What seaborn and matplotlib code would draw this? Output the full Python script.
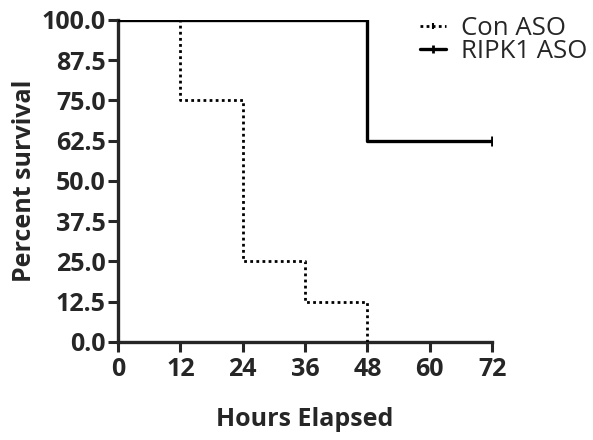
import matplotlib
matplotlib.use("Agg")
import matplotlib.pyplot as plt
from matplotlib.lines import Line2D
import seaborn as sns
import pandas as pd

con_hours = [0, 12, 24, 36, 48]
con_survival = [100, 75, 25, 12.5, 0]
ripk_hours = [0, 48, 72]
ripk_survival = [100, 62.5, 62.5]
x_ticks = [0, 12, 24, 36, 48, 60, 72]
y_ticks = [0, 12.5, 25, 37.5, 50, 62.5, 75, 87.5, 100]
series_names = ["Con ASO", "RIPK1 ASO"]

sns.set_style("ticks")
plt.rcParams['font.family'] = ['Open Sans', 'DejaVu Sans']

df_con = pd.DataFrame({"Hours": con_hours, "Survival": con_survival})
df_rip = pd.DataFrame({"Hours": ripk_hours, "Survival": ripk_survival})

fig = plt.figure(figsize=(5.93, 4.40), dpi=100)
ax = fig.add_axes([0.199, 0.223, 0.631, 0.732])

con_style = (0, (1, 1.2))
sns.lineplot(data=df_rip, x="Hours", y="Survival", ax=ax, drawstyle="steps-post",
             color="black", linewidth=2.4, zorder=3, legend=False)
sns.lineplot(data=df_con, x="Hours", y="Survival", ax=ax, drawstyle="steps-post",
             color="black", linewidth=2.0, linestyle=con_style, zorder=4, legend=False)
ax.plot([ripk_hours[-1]], [ripk_survival[-1]], marker="|", color="black", markersize=7, mew=2)

ax.set_xlim(0, 72)
ax.set_ylim(0, 100)
ax.set_xticks(x_ticks)
ax.set_yticks(y_ticks)
ax.set_xticklabels([str(v) for v in x_ticks], fontsize=18, fontweight="bold")
ax.set_yticklabels([f"{v:.1f}" for v in y_ticks], fontsize=18, fontweight="bold")
ax.tick_params(axis="both", width=2.2, length=7, direction="out", pad=2)
ax.tick_params(axis="x", pad=4)
ax.set_xlabel("Hours Elapsed", fontsize=18, fontweight="bold", labelpad=18)
ax.set_ylabel("Percent survival", fontsize=18, fontweight="bold", labelpad=3)
for s in ["top", "right"]:
    ax.spines[s].set_visible(False)
for s in ["left", "bottom"]:
    ax.spines[s].set_linewidth(2.4)

handles = [
    Line2D([], [], color="black", linewidth=2.0, linestyle=con_style, marker="|", markersize=5, mew=1.5),
    Line2D([], [], color="black", linewidth=2.4, marker="|", markersize=6, mew=2),
]
leg = ax.legend(handles, series_names, loc="upper left", bbox_to_anchor=(0.78, 1.045),
                frameon=False, fontsize=18.5, handlelength=1.0, handletextpad=0.6,
                labelspacing=-0.05, borderaxespad=0, numpoints=1)

fig.savefig("out.png", dpi=100)
